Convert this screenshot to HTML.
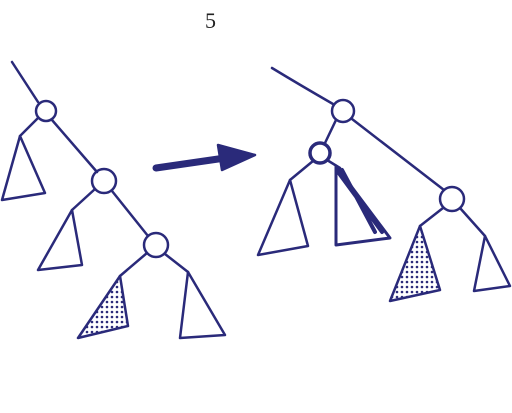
<!DOCTYPE html>
<html><head><meta charset="utf-8"><style>
html,body{margin:0;padding:0;background:#fff;}
svg{display:block}
</style></head><body>
<svg width="512" height="413" viewBox="0 0 512 413" fill="none" stroke="#2a2a7a" stroke-width="2.5" stroke-linecap="round" stroke-linejoin="round">
<defs>
<pattern id="dots" width="5" height="5" patternUnits="userSpaceOnUse">
<rect width="5" height="5" fill="#fff" stroke="none"/>
<circle cx="2" cy="2" r="1.3" fill="#2a2a7a" stroke="none"/>
</pattern>
</defs>
<text x="205" y="28" font-family="Liberation Serif, serif" font-size="22" fill="#222" stroke="none">5</text>
<g>
<path d="M12 62 L38 102"/>
<circle cx="46" cy="111" r="10"/>
<path d="M38 118 L20 136 M52 120 L97 172"/>
<path d="M20 136 L2 200 L45 193 Z"/>
<circle cx="104" cy="181" r="12"/>
<path d="M95 189 L72 210 M112 191 L148 236"/>
<path d="M72 210 L38 270 L82 265 Z"/>
<circle cx="156" cy="245" r="12"/>
<path d="M147 253 L120 276 M165 254 L188 272"/>
<path d="M120 276 L78 338 L128 326 Z" fill="url(#dots)"/>
<path d="M188 272 L180 338 L225 335 Z"/>
</g>
<g>
<path d="M156 168 L232 157" stroke-width="7"/>
<path d="M218 145 L255 155 L222 170 Z" fill="#2a2a7a"/>
</g>
<g>
<path d="M272 68 Q300 85 333 104"/>
<circle cx="343" cy="111" r="11"/>
<path d="M336 120 L325 143 M352 119 L444 190"/>
<circle cx="320" cy="153" r="10" stroke-width="3.5"/>
<path d="M313 161 L290 180 M327 160 L340 168"/>
<path d="M290 180 L258 255 L308 246 Z"/>
<path d="M336 166 L336 245 L390 238 Z" stroke-width="3"/>
<path d="M338 172 L382 232 M342 170 L375 232" stroke-width="4"/>
<circle cx="452" cy="199" r="12"/>
<path d="M443 208 L420 226 M460 208 L485 236"/>
<path d="M420 226 L390 301 L440 290 Z" fill="url(#dots)"/>
<path d="M485 236 L474 291 L510 286 Z"/>
</g>
</svg>
</body></html>
